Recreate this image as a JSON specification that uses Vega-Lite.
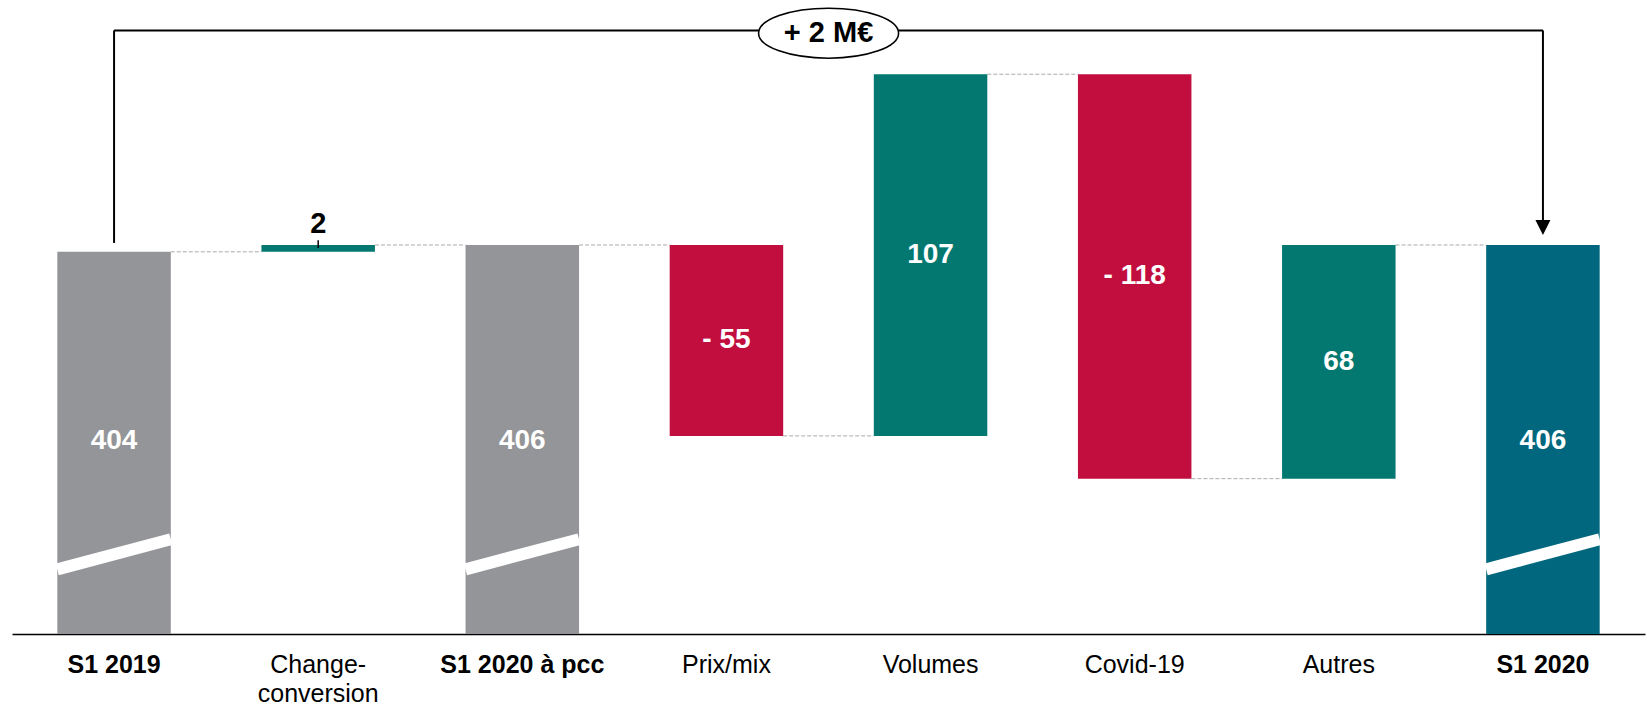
{
  "$schema": "https://vega.github.io/schema/vega-lite/v6.json",
  "width": 1633,
  "height": 634,
  "autosize": {"type": "none"},
  "padding": {"left": 12, "right": 2, "top": 0, "bottom": 72},
  "background": "white",
  "config": {"view": {"stroke": null}, "font": "Liberation Sans"},
  "datasets": {
    "bars": [
      {"label": "S1 2019", "kind": "total", "start": null, "end": 404, "text": "404", "next": "Change-conversion"},
      {"label": "Change-conversion", "kind": "up", "start": 404, "end": 406, "text": "2", "next": "S1 2020 à pcc"},
      {"label": "S1 2020 à pcc", "kind": "total", "start": null, "end": 406, "text": "406", "next": "Prix/mix"},
      {"label": "Prix/mix", "kind": "down", "start": 406, "end": 350.2, "text": "- 55", "next": "Volumes"},
      {"label": "Volumes", "kind": "up", "start": 350.2, "end": 455.9, "text": "107", "next": "Covid-19"},
      {"label": "Covid-19", "kind": "down", "start": 455.9, "end": 337.7, "text": "- 118", "next": "Autres"},
      {"label": "Autres", "kind": "up", "start": 337.7, "end": 406, "text": "68", "next": "S1 2020"},
      {"label": "S1 2020", "kind": "final", "start": null, "end": 406, "text": "406", "next": null}
    ],
    "note": [
      {"from": "S1 2019", "to": "S1 2020", "text": "+ 2 M€"}
    ]
  },
  "data": {"name": "bars"},
  "layer": [
    {
      "transform": [{"filter": "datum.next != null"}],
      "mark": {"type": "rule", "color": "#ababab", "strokeWidth": 1, "strokeDash": [4, 2]},
      "encoding": {
        "x": {"field": "label", "type": "nominal", "bandPosition": 1,
              "scale": {"domain": ["S1 2019", "Change-conversion", "S1 2020 à pcc", "Prix/mix", "Volumes", "Covid-19", "Autres", "S1 2020"], "paddingInner": 0.444, "paddingOuter": 0.222},
              "axis": {
                "title": null, "orient": "bottom", "domain": true, "domainColor": "#000000", "domainWidth": 1.6,
                "ticks": false, "grid": false, "labelAngle": 0, "labelFont": "Liberation Sans", "labelFontSize": 25,
                "labelColor": "#000000", "labelPadding": 18, "labelLineHeight": 29, "labelOverlap": false, "labelBound": false, "labelLimit": 300,
                "labelFontWeight": {"condition": {"test": "indexof(['S1 2019','S1 2020 à pcc','S1 2020'], datum.value) >= 0", "value": "bold"}, "value": "normal"},
                "labelExpr": "datum.value == 'Change-conversion' ? ['Change-', 'conversion'] : datum.value"
              }},
        "x2": {"field": "next", "bandPosition": 0},
        "y": {"field": "end", "type": "quantitative", "scale": {"domain": [292.3, 477.6], "nice": false, "zero": false}, "axis": null}
      }
    },
    {
      "transform": [{"filter": "datum.kind == 'total' || datum.kind == 'final'"}],
      "mark": {"type": "bar"},
      "encoding": {
        "x": {"field": "label", "type": "nominal"},
        "y": {"field": "end", "type": "quantitative"},
        "y2": {"datum": 292.3},
        "color": {"field": "kind", "type": "nominal", "legend": null,
                  "scale": {"domain": ["total", "up", "down", "final"], "range": ["#939598", "#037870", "#C20E3E", "#01677E"]}}
      }
    },
    {
      "transform": [{"filter": "datum.kind == 'up' || datum.kind == 'down'"}],
      "mark": {"type": "bar"},
      "encoding": {
        "x": {"field": "label", "type": "nominal"},
        "y": {"field": "start", "type": "quantitative"},
        "y2": {"field": "end"},
        "color": {"field": "kind", "type": "nominal", "legend": null}
      }
    },
    {
      "transform": [{"filter": "datum.kind == 'total' || datum.kind == 'final'"}],
      "mark": {"type": "rule", "color": "white", "strokeWidth": 12},
      "encoding": {
        "x": {"field": "label", "type": "nominal", "bandPosition": 0},
        "x2": {"field": "label", "bandPosition": 1},
        "y": {"datum": 311.2},
        "y2": {"datum": 320.0}
      }
    },
    {
      "transform": [{"filter": "datum.kind == 'total' || datum.kind == 'final'"}],
      "mark": {"type": "text", "color": "white", "fontSize": 28, "fontWeight": "bold", "baseline": "middle", "font": "Liberation Sans"},
      "encoding": {
        "x": {"field": "label", "type": "nominal"},
        "y": {"datum": 348.7},
        "text": {"field": "text"}
      }
    },
    {
      "transform": [
        {"filter": "(datum.kind == 'up' || datum.kind == 'down') && datum.label != 'Change-conversion'"},
        {"fold": ["start", "end"], "as": ["which", "v"]}
      ],
      "mark": {"type": "text", "color": "white", "fontSize": 28, "fontWeight": "bold", "baseline": "middle", "font": "Liberation Sans"},
      "encoding": {
        "x": {"field": "label", "type": "nominal"},
        "y": {"aggregate": "mean", "field": "v", "type": "quantitative"},
        "text": {"field": "text"}
      }
    },
    {
      "transform": [{"filter": "datum.label == 'Change-conversion'"}],
      "mark": {"type": "rule", "color": "#000000", "strokeWidth": 1.5},
      "encoding": {
        "x": {"field": "label", "type": "nominal"},
        "y": {"datum": 405.1},
        "y2": {"datum": 407.4}
      }
    },
    {
      "transform": [{"filter": "datum.label == 'Change-conversion'"}],
      "mark": {"type": "text", "color": "#000000", "fontSize": 29, "fontWeight": "bold", "baseline": "alphabetic", "font": "Liberation Sans"},
      "encoding": {
        "x": {"field": "label", "type": "nominal"},
        "y": {"datum": 409.6},
        "text": {"field": "text"}
      }
    },
    {
      "data": {"name": "note"},
      "mark": {"type": "rule", "color": "#000000", "strokeWidth": 2},
      "encoding": {
        "x": {"field": "from", "type": "nominal", "bandPosition": 0.5},
        "x2": {"field": "to", "bandPosition": 0.5},
        "y": {"datum": 468.7}
      }
    },
    {
      "data": {"name": "note"},
      "mark": {"type": "rule", "color": "#000000", "strokeWidth": 2},
      "encoding": {
        "x": {"field": "from", "type": "nominal"},
        "y": {"datum": 468.7},
        "y2": {"datum": 406.6}
      }
    },
    {
      "data": {"name": "note"},
      "mark": {"type": "rule", "color": "#000000", "strokeWidth": 2},
      "encoding": {
        "x": {"field": "to", "type": "nominal"},
        "y": {"datum": 468.7},
        "y2": {"datum": 413.3}
      }
    },
    {
      "data": {"name": "note"},
      "mark": {"type": "point", "shape": "M-1,-1 L1,-1 L0,1 Z", "size": 225, "filled": true, "color": "#000000", "opacity": 1},
      "encoding": {
        "x": {"field": "to", "type": "nominal"},
        "y": {"datum": 411.1}
      }
    },
    {
      "data": {"name": "note"},
      "mark": {"type": "point", "shape": "M-1,0 A1,0.357,0,1,1,1,0 A1,0.357,0,1,1,-1,0 Z", "size": 19600, "filled": false, "fill": "white", "fillOpacity": 1, "stroke": "#000000", "strokeWidth": 1.6, "opacity": 1},
      "encoding": {
        "x": {"datum": "Prix/mix", "bandPosition": 1.4},
        "y": {"datum": 467.9}
      }
    },
    {
      "data": {"name": "note"},
      "mark": {"type": "text", "color": "#000000", "fontSize": 29, "fontWeight": "bold", "baseline": "middle", "font": "Liberation Sans"},
      "encoding": {
        "x": {"datum": "Prix/mix", "bandPosition": 1.4},
        "y": {"datum": 467.9},
        "text": {"field": "text"}
      }
    }
  ]
}
